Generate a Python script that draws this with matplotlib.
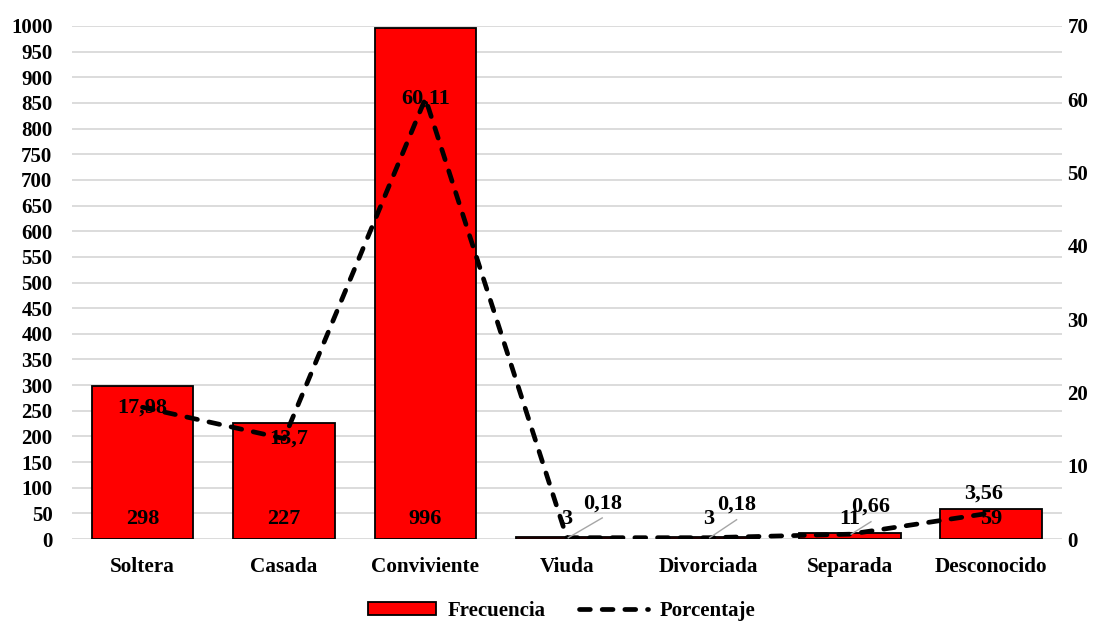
import matplotlib
matplotlib.use("Agg")
import matplotlib.pyplot as plt
import numpy as np

categories = ["Soltera", "Casada", "Conviviente", "Viuda", "Divorciada", "Separada", "Desconocido"]
frecuencia = [298, 227, 996, 3, 3, 11, 59]
porcentaje = [17.98, 13.7, 60.11, 0.18, 0.18, 0.66, 3.56]
pct_labels = ["17,98", "13,7", "60,11", "0,18", "0,18", "0,66", "3,56"]
left_ticks = list(range(0, 1001, 50))
right_ticks = list(range(0, 71, 10))

plt.rcParams['font.family'] = ['Liberation Serif', 'DejaVu Serif']
plt.rcParams['font.weight'] = 'bold'

fig = plt.figure(figsize=(11.05, 6.22), dpi=100)
ax = fig.add_axes([0.065, 0.1334, 0.896, 0.8248])
ax2 = ax.twinx()
x = np.arange(len(categories))

ax.set_zorder(1)
ax2.set_zorder(2)
ax.patch.set_visible(False)

bars = ax.bar(x, frecuencia, width=0.72, color='#ff0000', edgecolor='black', linewidth=1.3, zorder=3,
              label='Frecuencia')
ax.set_ylim(0, 1000)
ax.set_xlim(-0.5, len(categories) - 0.5)
ax.set_yticks(left_ticks)
ax.yaxis.grid(True, color='#d9d9d9', linewidth=1.3, zorder=0)
ax.set_axisbelow(True)
for s in ax.spines.values():
    s.set_visible(False)
for s in ax2.spines.values():
    s.set_visible(False)
ax.tick_params(axis='both', length=0, labelsize=15)
ax.set_xticks(x)
ax.set_xticklabels(categories, fontsize=15.3, fontweight='bold')
ax.tick_params(axis='x', pad=13)
ax.tick_params(axis='y', pad=14)
for lab in ax.get_yticklabels():
    lab.set_fontweight('bold')

# frequency labels at base of bars
for xi, v in zip(x, frecuencia):
    ax.text(xi, 40, str(v), ha='center', va='center', fontsize=16, fontweight='bold', zorder=5)

line, = ax2.plot(x, porcentaje, color='black', linewidth=3.4, linestyle=(0, (2.3, 2.5)),
                 dash_capstyle='round', label='Porcentaje', zorder=4)
ax2.set_ylim(0, 70)
ax2.set_yticks(right_ticks)
ax2.tick_params(axis='y', length=0, labelsize=15, pad=4)
for lab in ax2.get_yticklabels():
    lab.set_fontweight('bold')

# percentage labels
offsets = {0: (0, 0), 1: (0.03, 0), 2: (0, 0), 3: (0.25, 4.7), 4: (0.2, 4.45), 5: (0.15, 3.7), 6: (-0.05, 2.6)}
leader = {3, 4, 5}
for i, (p, t) in enumerate(zip(porcentaje, pct_labels)):
    dx, dy = offsets[i]
    ax2.text(i + dx, p + dy, t, ha='center', va='center', fontsize=16, fontweight='bold', zorder=6)
    if i in leader:
        ax2.plot([i + 0.01, i + dx], [p, p + dy - 2.0], color='#a6a6a6', linewidth=1.0, zorder=5)

leg = fig.legend([bars, line], ['Frecuencia', 'Porcentaje'], loc='lower center', ncol=2,
                 bbox_to_anchor=(0.508, -0.028), frameon=False, fontsize=15,
                 handlelength=3.3, handleheight=0.55, handletextpad=0.55, columnspacing=1.6)
for t in leg.get_texts():
    t.set_fontweight('bold')

fig.savefig('out.png', dpi=100)
